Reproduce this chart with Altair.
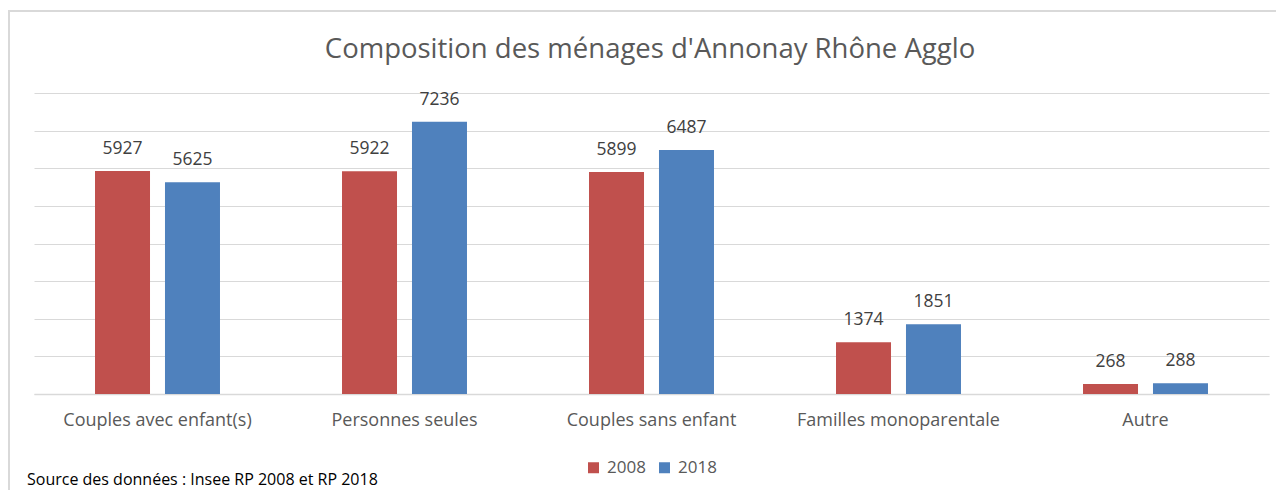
import altair as alt
import pandas as pd

categories = ["Couples avec enfant(s)", "Personnes seules", "Couples sans enfant",
              "Familles monoparentale", "Autre"]
values_2008 = [5927, 5922, 5899, 1374, 268]
values_2018 = [5625, 7236, 6487, 1851, 288]
years = ["2008", "2018"]
colors = ["#C0504D", "#4F81BD"]
title_text = "Composition des ménages d'Annonay Rhône Agglo"
source_text = "Source des données : Insee RP 2008 et RP 2018"

rows = []
for c, v in zip(categories, values_2008):
    rows.append({"cat": c, "year": "2008", "value": v})
for c, v in zip(categories, values_2018):
    rows.append({"cat": c, "year": "2018", "value": v})
df = pd.DataFrame(rows)

FONT = "Open Sans"
W, H = 1235, 301

x = alt.X("cat:N", sort=categories, title=None,
          scale=alt.Scale(paddingInner=0.494, paddingOuter=0.247),
          axis=alt.Axis(labelAngle=0, labelFontSize=18, labelColor="#595959",
                        labelFont=FONT, labelPadding=17, labelLimit=400, ticks=False,
                        grid=False, domainColor="#d9d9d9", domainWidth=1.5))
xo = alt.XOffset("year:N", sort=years, scale=alt.Scale(paddingInner=0.214))
y = alt.Y("value:Q", title=None, scale=alt.Scale(domain=[0, 8000]),
          axis=alt.Axis(values=list(range(0, 8001, 1000)), labels=False, ticks=False,
                        domain=False, grid=True, gridColor="#d9d9d9", gridWidth=1.2))

bars = alt.Chart(df).mark_bar().encode(
    x=x, xOffset=xo, y=y,
    color=alt.Color("year:N", sort=years,
                    scale=alt.Scale(domain=years, range=colors),
                    legend=alt.Legend(title=None, orient="none", direction="horizontal",
                                      legendX=551, legendY=366, symbolType="square",
                                      symbolSize=121, labelFontSize=17, labelFont=FONT,
                                      labelColor="#595959", columnPadding=10,
                                      labelOffset=5, symbolStrokeWidth=0))
)

labels = alt.Chart(df).mark_text(dy=-13, fontSize=17.5, font=FONT, color="#404040",
                                 baseline="bottom").encode(
    x=x, xOffset=xo, y=y, text="value:Q"
)

title = alt.Chart(pd.DataFrame({"t": [title_text]})).mark_text(
    align="center", baseline="alphabetic", fontSize=27.5, font=FONT, color="#595959"
).encode(x=alt.value(616), y=alt.value(-35), text="t:N")

source = alt.Chart(pd.DataFrame({"t": [source_text]})).mark_text(
    align="left", baseline="middle", fontSize=16, font=FONT, color="#000000"
).encode(x=alt.value(-7), y=alt.value(387), text="t:N")

border = alt.Chart(pd.DataFrame({"a": [0]})).mark_rect(
    fill=None, stroke="#d9d9d9", strokeWidth=2
).encode(x=alt.value(-25), x2=alt.value(1300), y=alt.value(-82), y2=alt.value(420))

chart = alt.layer(border, bars, labels, title, source).properties(
    width=W, height=H,
    autosize=alt.AutoSizeParams(type="none"),
    padding={"left": 26, "top": 85, "right": 7, "bottom": 96},
).configure_view(stroke=None)

chart.save("out.html", embed_options={"renderer": "svg", "actions": False})
